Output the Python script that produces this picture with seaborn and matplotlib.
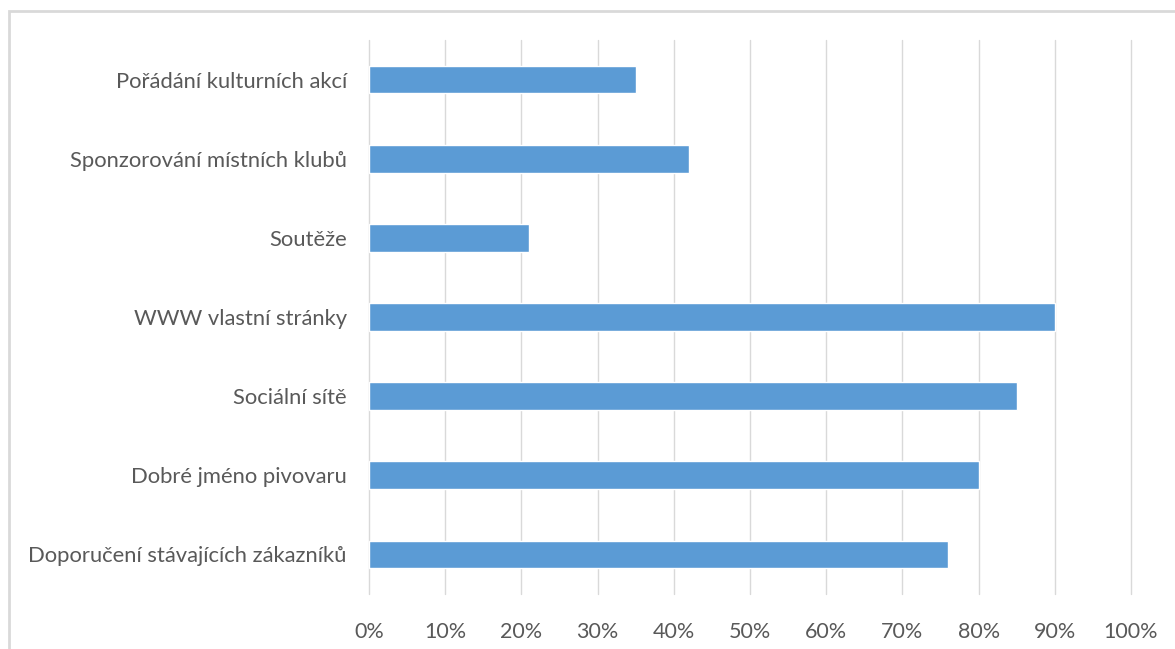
import matplotlib
matplotlib.use("Agg")
import matplotlib.pyplot as plt
import seaborn as sns
import pandas as pd
from matplotlib.patches import Rectangle
from matplotlib.ticker import PercentFormatter

categories = [
    "Pořádání kulturních akcí",
    "Sponzorování místních klubů",
    "Soutěže",
    "WWW vlastní stránky",
    "Sociální sítě",
    "Dobré jméno pivovaru",
    "Doporučení stávajících zákazníků",
]
values = [35, 42, 21, 90, 85, 80, 76]
xticks = [0, 10, 20, 30, 40, 50, 60, 70, 80, 90, 100]

df = pd.DataFrame({"cat": categories, "val": values})

sns.set_theme(style="white")
plt.rcParams["font.family"] = ["Lato", "DejaVu Sans"]

fig = plt.figure(figsize=(11.75, 6.49), dpi=100)
ax = fig.add_axes([369/1175, 1 - 594/649, (1131 - 369)/1175, (594 - 40)/649])

fig.patches.append(Rectangle((9/1175, -0.1), 1.2, 1 - 11/649 + 0.1,
                             transform=fig.transFigure, fill=False,
                             edgecolor="#D9D9D9", linewidth=2))

sns.barplot(data=df, x="val", y="cat", ax=ax, color="#5B9BD5",
            width=0.35, saturation=1, orient="h")

ax.set_xlim(0, 100)
ax.set_xticks(xticks)
ax.xaxis.set_major_formatter(PercentFormatter(decimals=0))
ax.grid(axis="x", color="#D9D9D9", linewidth=1)
for gl in ax.get_xgridlines():
    gl.set_clip_on(False)
ax.set_axisbelow(True)
for s in ax.spines.values():
    s.set_visible(False)
ax.set_xlabel("")
ax.set_ylabel("")
ax.tick_params(axis="x", length=0, pad=20, labelsize=15.5, colors="#595959")
ax.tick_params(axis="y", length=0, pad=16, labelsize=15.8, colors="#595959")

fig.savefig("out.png", dpi=100)
